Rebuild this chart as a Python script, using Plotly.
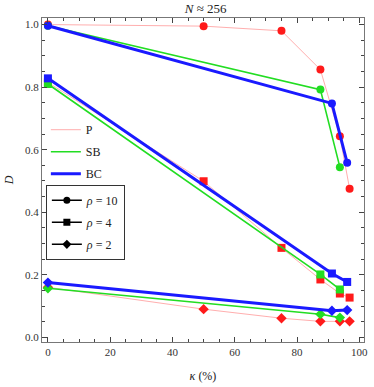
import plotly.graph_objects as go

# kappa (%) positions per method
kappa_P = [0, 50, 75, 87.5, 93.75, 96.875]
kappa_SB = [0, 87.5, 93.75]
kappa_BC = [0, 91.2, 96.1]

# D values, one list per method and rho
P_rho10 = [1.0, 0.995, 0.98, 0.856, 0.643, 0.475]
P_rho4 = [0.815, 0.499, 0.286, 0.185, 0.14, 0.127]
P_rho2 = [0.16, 0.09, 0.061, 0.051, 0.051, 0.051]
SB_rho10 = [0.996, 0.792, 0.544]
SB_rho4 = [0.81, 0.201, 0.153]
SB_rho2 = [0.157, 0.074, 0.063]
BC_rho10 = [0.996, 0.748, 0.558]
BC_rho4 = [0.828, 0.204, 0.177]
BC_rho2 = [0.175, 0.085, 0.087]

rho_labels = ["10", "4", "2"]
symbols = ["circle", "square", "diamond"]

methods = [
    ("P", kappa_P, [P_rho10, P_rho4, P_rho2], "rgba(255,120,120,0.6)", "#ff1a1a", 1),
    ("SB", kappa_SB, [SB_rho10, SB_rho4, SB_rho2], "#22dd22", "#22dd22", 1.6),
    ("BC", kappa_BC, [BC_rho10, BC_rho4, BC_rho2], "#1a1aff", "#1a1aff", 3),
]

FONT = "Liberation Serif"
fig = go.Figure()

for name, xs, series, lcol, mcol, lw in methods:
    for ys, sym in zip(series, symbols):
        fig.add_trace(go.Scatter(
            x=xs, y=ys, mode="lines+markers", showlegend=False,
            line=dict(color=lcol, width=lw),
            marker=dict(symbol=sym, size=8, color=mcol),
        ))

# legend 1: line styles
for name, xs, series, lcol, mcol, lw in methods:
    fig.add_trace(go.Scatter(
        x=[None], y=[None], mode="lines", name=name, legend="legend",
        legendgroup=name, line=dict(color=lcol, width=lw),
    ))

# legend 2: marker shapes
for lab, sym in zip(rho_labels, symbols):
    fig.add_trace(go.Scatter(
        x=[None], y=[None], mode="lines+markers", name=f"<i>ρ</i> = {lab}",
        legend="legend2", legendgroup="r" + lab,
        line=dict(color="black", width=1.5),
        marker=dict(symbol=sym, size=7, color="black"),
    ))

axis_common = dict(
    showgrid=False, zeroline=False, showline=True, linecolor="#777777",
    linewidth=1.3, mirror="ticks", ticks="inside", ticklen=5, tickcolor="#444444",
    tickfont=dict(family=FONT, size=11, color="#333333"),
)

fig.update_xaxes(
    range=[-1.9, 101.5], tickvals=[0, 20, 40, 60, 80, 100],
    minor=dict(dtick=5, ticks="inside", ticklen=3, tickcolor="#444444"),
    title=dict(text="<i>κ</i> (%)", font=dict(family=FONT, size=12, color="#222222"), standoff=14),
    **axis_common,
)
fig.update_yaxes(
    range=[-0.015, 1.021], tickvals=[0, 0.2, 0.4, 0.6, 0.8, 1.0],
    ticktext=["0.0", "0.2", "0.4", "0.6", "0.8", "1.0"],
    minor=dict(dtick=0.05, ticks="inside", ticklen=3, tickcolor="#444444"),
    title=dict(text="<i>D</i>", font=dict(family=FONT, size=12, color="#222222"), standoff=8),
    **axis_common,
)

fig.update_layout(
    width=374, height=387,
    margin=dict(l=42, r=6, t=18, b=43),
    plot_bgcolor="white", paper_bgcolor="white",
    title=dict(text="<i>N</i> ≈ 256", x=0.55, xanchor="center", y=0.99, yanchor="top",
               font=dict(family=FONT, size=13, color="#222222")),
    legend=dict(
        x=0.012, y=0.70, xanchor="left", yanchor="top",
        bgcolor="rgba(255,255,255,0)", borderwidth=0,
        font=dict(family=FONT, size=12, color="#222222"),
        tracegroupgap=3, itemwidth=30,
    ),
    legend2=dict(
        x=0.012, y=0.485, xanchor="left", yanchor="top",
        bgcolor="white", bordercolor="#333333", borderwidth=1,
        font=dict(family=FONT, size=12, color="#222222"),
        tracegroupgap=3, itemwidth=30,
    ),
)

fig.write_html("out.html", config={"displayModeBar": False},
               post_script="document.body.style.margin='0';")
